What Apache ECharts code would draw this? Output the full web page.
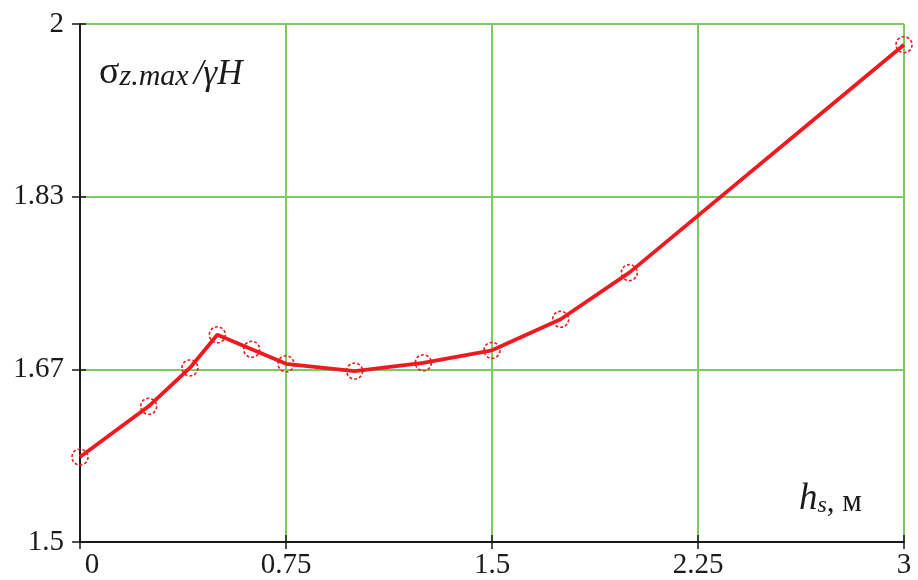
<!DOCTYPE html>
<html>
<head>
<meta charset="utf-8">
<script src="https://cdn.jsdelivr.net/npm/echarts@6/dist/echarts.min.js"></script>
<style>
  html, body { margin: 0; padding: 0; background: #ffffff; }
  #chart { width: 918px; height: 580px; }
</style>
</head>
<body>
<div id="chart"></div>
<script>
// Layer thickness h_s (m) and the relative peak vertical stress σz.max/γH
const hs = [0, 0.25, 0.4, 0.5, 0.625, 0.75, 1.0, 1.25, 1.5, 1.75, 2.0, 3.0];
const sigmaRatio = [1.582, 1.631, 1.668, 1.700, 1.686, 1.672, 1.665, 1.673, 1.685, 1.715, 1.760, 1.980];

// Tick labels for both axes
const xTickLabels = ['0', '0.75', '1.5', '2.25', '3'];
const yTickLabels = ['1.5', '1.67', '1.83', '2'];

const X_MIN = 0, X_MAX = 3, X_STEP = 0.75;
const Y_MIN = 1.5, Y_MAX = 2, Y_STEP = 1 / 6;

const serif = "'Liberation Serif', 'Times New Roman', serif";
const ink = '#1a1a1a';
const gridGreen = '#7dcb5f';
const red = '#ef1a20';

const chart = echarts.init(document.getElementById('chart'), null, { renderer: 'canvas' });

// the first x label is nudged right of the corner
const xLabel = v => {
  const i = Math.round((v - X_MIN) / X_STEP);
  const t = xTickLabels[i] ?? '';
  return i === 0 ? '{first|' + t + '}' : t;
};
const yLabel = v => yTickLabels[Math.round((v - Y_MIN) / Y_STEP)] ?? '';

const tok = (size, italic, extra) => Object.assign({
  fontFamily: serif, fontSize: size, fontStyle: italic ? 'italic' : 'normal',
  fontWeight: 'normal', color: ink, verticalAlign: 'bottom'
}, extra || {});

chart.setOption({
  animation: false,
  backgroundColor: '#ffffff',
  grid: { left: 80, right: 14, top: 24, bottom: 37.5, containLabel: false },
  title: [
    {
      text: '{a|σ}{b|z.max} {c|/γH}',
      left: 99, top: 50, padding: 0,
      textStyle: {
        fontWeight: 'normal',
        rich: {
          a: tok(38, false, { lineHeight: 40 }),
          b: tok(30, true, { lineHeight: 38 }),
          c: tok(35, true, { lineHeight: 42 })
        }
      }
    },
    {
      text: '{h|h}{s|s}{m|, м}',
      left: 799, top: 482, padding: 0,
      textStyle: {
        fontWeight: 'normal',
        rich: {
          h: tok(37, true, { lineHeight: 36 }),
          s: tok(24, true, { lineHeight: 31 }),
          m: tok(31, false, { lineHeight: 34 })
        }
      }
    }
  ],
  xAxis: [
    {
      type: 'value', position: 'bottom', min: X_MIN, max: X_MAX, interval: X_STEP,
      axisLine: { show: true, onZero: false, lineStyle: { color: ink, width: 2 } },
      axisTick: { show: true, inside: false, length: 7, lineStyle: { color: ink, width: 1.5 } },
      axisLabel: {
        show: true, formatter: xLabel, margin: 9, color: ink, fontFamily: serif, fontSize: 29,
        rich: { first: { fontFamily: serif, fontSize: 29, color: ink, padding: [0, 0, 0, 24] } }
      },
      splitLine: { show: true, lineStyle: { color: gridGreen, width: 2 } },
      z: 3
    },
    {
      type: 'value', position: 'bottom', min: X_MIN, max: X_MAX, interval: X_STEP,
      axisLine: { show: false },
      axisTick: { show: true, inside: true, length: 7, lineStyle: { color: ink, width: 1.5 } },
      axisLabel: { show: false },
      splitLine: { show: false },
      z: 3
    }
  ],
  yAxis: [
    {
      type: 'value', position: 'left', min: Y_MIN, max: Y_MAX, interval: Y_STEP,
      axisLine: { show: true, onZero: false, lineStyle: { color: ink, width: 2 } },
      axisTick: { show: true, inside: false, length: 8, lineStyle: { color: ink, width: 1.5 } },
      axisLabel: { show: true, formatter: yLabel, margin: 16, color: ink, fontFamily: serif, fontSize: 29 },
      splitLine: { show: true, lineStyle: { color: gridGreen, width: 2 } },
      z: 3
    },
    {
      type: 'value', position: 'left', min: Y_MIN, max: Y_MAX, interval: Y_STEP,
      axisLine: { show: false },
      axisTick: { show: true, inside: true, length: 6, lineStyle: { color: ink, width: 1.5 } },
      axisLabel: { show: false },
      splitLine: { show: false },
      z: 3
    }
  ],
  series: [
    {
      type: 'line',
      xAxisIndex: 0, yAxisIndex: 0,
      data: hs.map((h, i) => [h, sigmaRatio[i]]),
      clip: true,
      symbol: 'circle',
      symbolSize: 16,
      showAllSymbol: true,
      lineStyle: { color: red, width: 3.8 },
      itemStyle: { color: 'rgba(255,255,255,0)', borderColor: red, borderWidth: 1.6, borderType: [3, 2] },
      emphasis: { disabled: true },
      z: 4
    }
  ]
});
</script>
</body>
</html>
